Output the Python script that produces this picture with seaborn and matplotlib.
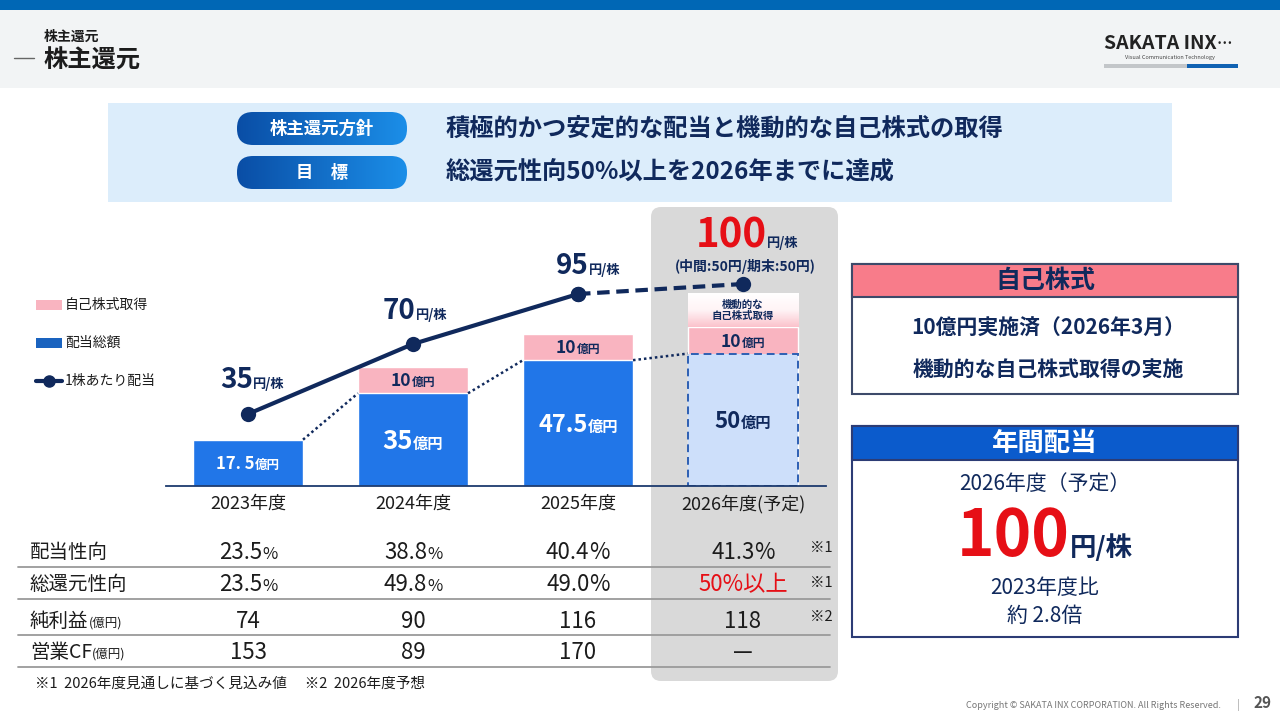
import matplotlib
matplotlib.use("Agg")
import matplotlib.pyplot as plt
import matplotlib.transforms as mtrans
from matplotlib.patches import FancyBboxPatch, Rectangle
from matplotlib.colors import LinearSegmentedColormap
import numpy as np
import pandas as pd
import seaborn as sns

sns.set_theme(style="white")
plt.rcParams['font.family'] = ['Noto Sans CJK JP', 'DejaVu Sans']

# ---- data ----
years = ['2023年度', '2024年度', '2025年度', '2026年度(予定)']
dividend_total = [17.5, 35, 47.5, 50]   # 配当総額 (億円)
buyback = [0, 10, 10, 10]               # 自己株式取得 (億円)
dps = [35, 70, 95, 100]                 # 1株あたり配当 (円)
div_labels = ['17. 5', '35', '47.5', '50']
payout = ['23.5', '38.8', '40.4', '41.3']
total_payout = ['23.5', '49.8', '49.0', '50%以上']
net_income = ['74', '90', '116', '118']
op_cf = ['153', '89', '170', '—']

# ---- colours ----
NAVY = '#10295c'
BLUE = '#2176e8'
PINK = '#f9b4c0'
RED = '#e60f16'
LIGHT = '#cddffa'
TXT = '#1c1c1c'

fig = plt.figure(figsize=(12.8, 7.2), dpi=100)
bg = fig.add_axes([0, 0, 1, 1])
bg.set_xlim(0, 1280)
bg.set_ylim(720, 0)
bg.axis('off')

ax = fig.add_axes([165.5 / 1280, 234 / 720, 660 / 1280, 280 / 720])
ax.set_facecolor('none')

R = fig.canvas.get_renderer()


def combo(host, x, y, parts, tr, dx=0, dy=0, ha='center', mid=False):
    # several text pieces on one baseline (big number + small unit)
    if mid:
        dy -= 0.36 * max(p[1] for p in parts) * 100 / 72
    ts = [host.text(x, y, s, fontsize=fs, color=c, fontweight=w, ha='left',
                    va='baseline', transform=tr, zorder=8)
          for s, fs, c, w in parts]
    ws = [t.get_window_extent(R).width for t in ts]
    off = -sum(ws) / 2 if ha == 'center' else 0
    for t, w in zip(ts, ws):
        t.set_transform(mtrans.offset_copy(tr, fig=fig, x=off + dx, y=dy, units='dots'))
        off += w


# ---- header ----
bg.add_patch(Rectangle((0, 0), 1280, 10, fc='#0067b5', ec='none'))
bg.add_patch(Rectangle((0, 10), 1280, 78, fc='#f2f4f5', ec='none'))
bg.text(44, 37, '株主還元', fontsize=10, fontweight='bold', color=TXT, va='center')
bg.text(44, 61, '株主還元', fontsize=17.5, fontweight='bold', color=TXT, va='center')
bg.plot([14, 34], [58, 58], color='#666666', lw=1)
combo(bg, 1104, 49, [('SAKATA INX', 14, '#222222', 'bold'), ('…', 11, '#222222', 'bold')],
      bg.transData, ha='left')
bg.text(1170, 57, 'Visual Communication Technology', fontsize=4, color='#444444', ha='center', va='center')
bg.add_patch(Rectangle((1104, 64), 83, 4, fc='#c3c6c9', ec='none'))
bg.add_patch(Rectangle((1187, 64), 51, 4, fc='#1062b2', ec='none'))

# ---- policy box ----
bg.add_patch(Rectangle((108, 103), 1064, 99, fc='#dcedfb', ec='none'))
pill_cmap = LinearSegmentedColormap.from_list('pill', ['#0a4ea6', '#1b8ee8'])
for y0, label, text in [(112, '株主還元方針', '積極的かつ安定的な配当と機動的な自己株式の取得'),
                        (156, '目　標', '総還元性向50%以上を2026年までに達成')]:
    pill = FancyBboxPatch((237, y0), 170, 33, boxstyle='round,pad=0,rounding_size=16',
                          fc='none', ec='none')
    bg.add_patch(pill)
    im = bg.imshow(np.linspace(0, 1, 64)[None, :], extent=[237, 407, y0 + 33, y0],
                   cmap=pill_cmap, aspect='auto', zorder=2)
    im.set_clip_path(pill)
    bg.text(322, y0 + 16.5, label, fontsize=12.5, fontweight='bold', color='white',
            ha='center', va='center', zorder=3)
    bg.text(446, y0 + 16.5, text, fontsize=17.5, fontweight='bold', color=NAVY,
            ha='left', va='center')

# ---- highlight panel for forecast year ----
bg.add_patch(FancyBboxPatch((651, 207), 187, 474, boxstyle='round,pad=0,rounding_size=10',
                            fc='#d9d9d9', ec='none'))

# ---- legend ----
bg.add_patch(Rectangle((36, 300), 26, 10, fc=PINK, ec='none'))
bg.add_patch(Rectangle((36, 338), 26, 10, fc='#1a63bf', ec='none'))
bg.plot([36, 62], [381, 381], color=NAVY, lw=3)
bg.plot([49], [381], marker='o', ms=8, color=NAVY)
for yy, s in [(305, '自己株式取得'), (343, '配当総額'), (381, '1株あたり配当')]:
    bg.text(65, yy, s, fontsize=10, color=TXT, va='center')

# ---- bars ----
width = 0.667
df = pd.DataFrame({'year': years,
                   'div': dividend_total,
                   'total': [d + b for d, b in zip(dividend_total, buyback)]})
sns.barplot(data=df, x='year', y='total', color=PINK, width=width, saturation=1, ax=ax)
n0 = len(ax.patches)
sns.barplot(data=df, x='year', y='div', hue='year', palette=[BLUE, BLUE, BLUE, LIGHT],
            width=width, saturation=1, legend=False, ax=ax)
plan_bar = ax.patches[n0 + 3]
plan_bar.set_edgecolor('#2d5fb3')
plan_bar.set_linewidth(1.4)
plan_bar.set_linestyle((0, (4, 2.5)))

# label box (gradient) above the forecast buyback
grad_cmap = LinearSegmentedColormap.from_list('g', ['#fbc3cc', '#fff4f6', '#ffffff'])
top = df['total'].iloc[3]
ax.imshow(np.linspace(0, 1, 64)[:, None], extent=[3 - width / 2, 3 + width / 2, top, top + 12.5],
          origin='lower', cmap=grad_cmap, aspect='auto', zorder=2)

# dotted connectors between dividend bars
for i in range(3):
    ax.plot([i + width / 2, i + 1 - width / 2], [dividend_total[i], dividend_total[i + 1]],
            ls=(0, (1, 1.2)), color=NAVY, lw=1.8, zorder=3)

ax.set_xlim(-0.5, 3.5)
ax.set_ylim(0, 105.7)
ax.set_xlabel('')
ax.set_ylabel('')
ax.set_yticks([])
ax.set_xticks(range(4))
ax.set_xticklabels(years, fontsize=13, color=TXT)
ax.tick_params(axis='x', length=0, pad=6)
for side in ['left', 'top', 'right']:
    ax.spines[side].set_visible(False)
ax.spines['bottom'].set_color('#1c3a6e')
ax.spines['bottom'].set_linewidth(1.3)

# ---- dividend per share line ----
ax2 = ax.twinx()
sns.lineplot(x=years[:3], y=dps[:3], ax=ax2, color=NAVY, lw=3, marker='o', ms=11,
             markeredgewidth=0, sort=False)
sns.lineplot(x=years[2:], y=dps[2:], ax=ax2, color=NAVY, lw=3, marker='o', ms=11,
             markeredgewidth=0, linestyle=(0, (3, 1.6)), sort=False)
ax2.set_ylim(-1, 139)
ax2.set_xlim(-0.5, 3.5)
ax2.axis('off')

# labels on bars
label_size = [12, 18.5, 17, 16]
label_col = ['white', 'white', 'white', NAVY]
for i in range(4):
    combo(ax2, i, dividend_total[i] / 2,
          [(div_labels[i], label_size[i], label_col[i], 'bold'),
           ('億円', 11 if i else 9, label_col[i], 'bold')], ax.transData, mid=True)
    if buyback[i]:
        combo(ax2, i, dividend_total[i] + buyback[i] / 2,
              [(f'{buyback[i]}', 12.5, NAVY, 'bold'), ('億円', 8.5, NAVY, 'bold')],
              ax.transData, mid=True)
ax2.text(3, top + 6.2, '機動的な\n自己株式取得', transform=ax.transData, fontsize=7.5,
         fontweight='bold', color=NAVY, ha='center', va='center', linespacing=1.15, zorder=8)

# labels on line
lab_dy = [26, 25, 20, 37]
lab_dx = [4, 2, 10, 4]
for i, v in enumerate(dps):
    big = 29 if i == 3 else 20
    col = RED if i == 3 else NAVY
    combo(ax2, i, v, [(f'{v}', big, col, 'bold'), ('円/株', 9.5, NAVY, 'bold')],
          ax2.transData, dx=lab_dx[i], dy=lab_dy[i])
ax2.annotate('(中間:50円/期末:50円)', (3, dps[3]), xytext=(2, 18), textcoords='offset pixels',
             fontsize=10, fontweight='bold', color=NAVY, ha='center', va='center')

# ---- table ----
tb = mtrans.blended_transform_factory(ax.transData, bg.transData)
rows = [(551, '配当性向', '', payout),
        (583, '総還元性向', '', total_payout),
        (620, '純利益', '(億円)', net_income),
        (651, '営業CF', '(億円)', op_cf)]
small_pct = [True, True, False, False]
for r, (yc, name, unit, vals) in enumerate(rows):
    parts = [(name, 14, TXT, 'normal')]
    if unit:
        parts.append((unit, 9, TXT, 'normal'))
    combo(bg, 30, yc, parts, bg.transData, ha='left', mid=True)
    for i, v in enumerate(vals):
        if r < 2 and v.endswith('以上'):
            combo(bg, i, yc, [(v, 16, RED, 'normal')], tb, mid=True)
        elif r < 2:
            combo(bg, i, yc, [(v, 16, TXT, 'normal'),
                              ('%', 12 if small_pct[i] else 16, TXT, 'normal')], tb, mid=True)
        else:
            combo(bg, i, yc, [(v, 16, TXT, 'normal')], tb, mid=True)
for yl in [567, 599, 635, 667]:
    bg.plot([18, 830], [yl, yl], color='#9a9a9a', lw=1.3)
for yy, s in [(548, '※1'), (583, '※1'), (617, '※2')]:
    bg.text(821, yy, s, fontsize=10.5, color=TXT, ha='center', va='center')
bg.text(35, 684, '※1  2026年度見通しに基づく見込み値　 ※2  2026年度予想', fontsize=10.5,
        color=TXT, va='center')

# ---- right boxes ----
bg.add_patch(Rectangle((852, 264), 386, 130, fc='white', ec='#3d4a6a', lw=1.5))
bg.add_patch(Rectangle((852, 264), 386, 33, fc='#f87c8a', ec='#3d4a6a', lw=1.5))
bg.text(1045, 281, '自己株式', fontsize=18, fontweight='bold', color=NAVY, ha='center', va='center')
bg.text(1048, 328, '10億円実施済（2026年3月）', fontsize=15, fontweight='bold', color=NAVY,
        ha='center', va='center')
bg.text(1048, 369, '機動的な自己株式取得の実施', fontsize=15, fontweight='bold', color=NAVY,
        ha='center', va='center')

bg.add_patch(Rectangle((852, 426), 386, 211, fc='white', ec='#2c3c75', lw=1.5))
bg.add_patch(Rectangle((852, 426), 386, 34, fc='#0b5bcc', ec='#2c3c75', lw=1.5))
bg.text(1045, 443, '年間配当', fontsize=19, fontweight='bold', color='white', ha='center', va='center')
bg.text(1045, 484, '2026年度（予定）', fontsize=15, color=NAVY, ha='center', va='center')
combo(bg, 1045, 556, [(f'{dps[3]}', 46, RED, 'bold'), ('円/株', 19, NAVY, 'bold')], bg.transData)
bg.text(1045, 588, '2023年度比', fontsize=15, color=NAVY, ha='center', va='center')
bg.text(1045, 616, '約 2.8倍', fontsize=15, color=NAVY, ha='center', va='center')

# ---- footer ----
bg.text(1221, 705, 'Copyright © SAKATA INX CORPORATION. All Rights Reserved.', fontsize=6.5,
        color='#777777', ha='right', va='center')
bg.text(1238, 705, '|', fontsize=7, color='#999999', ha='center', va='center')
bg.text(1262, 703, '29', fontsize=11, fontweight='bold', color='#555555', ha='center', va='center')

fig.savefig('out.png', dpi=100)
